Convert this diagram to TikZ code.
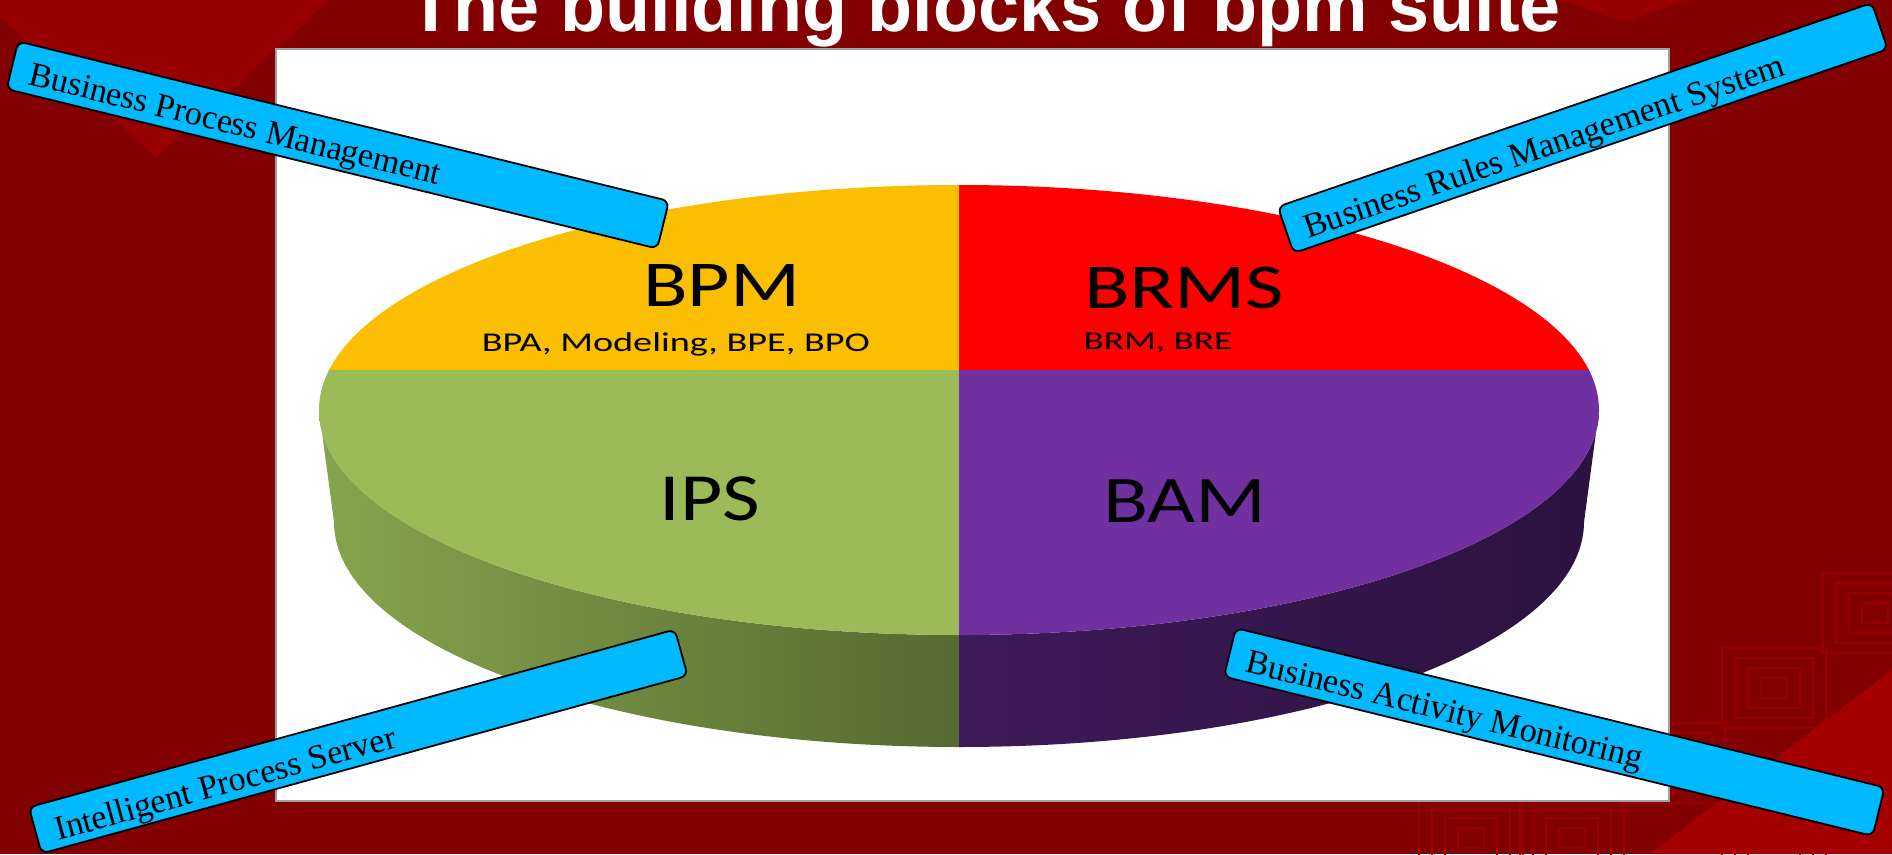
\documentclass[tikz,border=0pt]{standalone}
\usepackage{fontspec}
\usepackage{graphicx}
\newfontfamily\titlefont{Liberation Sans}
\newfontfamily\piefont{Carlito}
\newfontfamily\boxfont{Liberation Serif}
\definecolor{bgdark}{HTML}{830000}
\definecolor{bglight}{HTML}{980000}
\definecolor{bgbright}{HTML}{A40000}
\definecolor{patline}{HTML}{950000}
\definecolor{panelgray}{HTML}{A0A0A0}
\definecolor{pieyellow}{HTML}{FBBE00}
\definecolor{piered}{HTML}{FE0000}
\definecolor{piegreen}{HTML}{9BBB59}
\definecolor{piepurple}{HTML}{7030A0}
\definecolor{sidegreenL}{HTML}{86A44D}
\definecolor{sidegreenR}{HTML}{556A30}
\definecolor{sidepurpleL}{HTML}{3E1A58}
\definecolor{sidepurpleR}{HTML}{2B1240}
\definecolor{calloutblue}{HTML}{00B9FF}
\newcommand\fitlabel[3]{\resizebox{#1pt}{#2pt}{\smash{#3}\vphantom{B}}}
\begin{document}
\begin{tikzpicture}[x=1pt,y=1pt,
  callout/.style={rectangle, rounded corners=7pt, draw=black, line width=1.8pt,
    fill=calloutblue, inner sep=0pt},
  callouttext/.style={anchor=base west, inner sep=0pt,
    font=\boxfont\fontsize{34.3}{40}\selectfont},
  pielabel/.style={anchor=base west, inner sep=0pt, text=black,
    font=\piefont\fontsize{20}{24}\selectfont},
  sq/.style={draw=patline, line width=1.1pt}
]
\useasboundingbox (0,0) rectangle (1892,-854);
\clip (0,0) rectangle (1892,-854);
% background
\fill[bgdark] (0,0) rectangle (1892,-854);
\fill[bglight] (0,0) -- (330,0) -- (156,-157) -- (0,-17) -- cycle;
\fill[bglight] (1560,0) -- (1690,0) -- (1624,-22) -- cycle;
\foreach \cx/\cy in {1875/613, 1774/688, 1673/763, 1572/838, 1875/763, 1471/838, 1774/838}
  \foreach \n in {1,...,4}
    \draw[sq] ({\cx-13*\n},{-\cy+10*\n}) rectangle ({\cx+13*\n},{-\cy-10*\n});
\fill[bgbright] (1892,-670) -- (1892,-854) -- (1650,-854) -- cycle;
% title
\node[anchor=base west, inner sep=0pt, text=white,
  font=\titlefont\bfseries\fontsize{73.8}{80}\selectfont] (title) at (408.5,-31)
  {The building blocks of bpm suite};
% white panel
\node[draw=panelgray, line width=2pt, fill=white, minimum width=1393pt,
  minimum height=752pt, inner sep=0pt, anchor=north west] (panel) at (275,-48) {};
% pie side
\shade[left color=sidegreenL, right color=sidegreenR]
  (319,-410) -- (334,-522) arc[start angle=180, end angle=270, x radius=625, y radius=225]
  -- (959,-635) arc[start angle=270, end angle=180, x radius=640, y radius=225] -- cycle;
\shade[left color=sidepurpleL, right color=sidepurpleR]
  (959,-747) arc[start angle=270, end angle=360, x radius=625, y radius=225]
  -- (1599,-410) arc[start angle=0, end angle=-90, x radius=640, y radius=225] -- cycle;
% pie top face
\begin{scope}
  \clip (959,-410) ellipse [x radius=640, y radius=225];
  \fill[pieyellow] (300,-150) rectangle (959,-370);
  \fill[piered] (959,-150) rectangle (1620,-370);
  \fill[piegreen] (300,-370) rectangle (959,-660);
  \fill[piepurple] (959,-370) rectangle (1620,-660);
\end{scope}
% pie labels
\node[pielabel] (bpm) at (643,-306) {\fitlabel{157}{42}{BPM}};
\node[pielabel] (bpmsub) at (481.7,-351) {\fitlabel{388}{17.4}{BPA, Modeling, BPE, BPO}};
\node[pielabel] (brms) at (1084,-308.5) {\fitlabel{200}{41}{BRMS}};
\node[pielabel] (brmssub) at (1083.5,-349.5) {\fitlabel{148.5}{16.5}{BRM, BRE}};
\node[pielabel] (ips) at (659.5,-520) {\fitlabel{100.5}{43.3}{IPS}};
\node[pielabel] (bam) at (1103,-522.7) {\fitlabel{163}{42.7}{BAM}};
% callouts
\node[callout, rotate=-13.78, minimum width=670pt, minimum height=49pt] (cbpm) at (337.75,-145) {};
\node[callouttext, rotate=-13.78] (tbpm) at (27,-84) {Business Process Management};
\node[callout, rotate=18.94, minimum width=628pt, minimum height=49pt] (cbrms) at (1582.75,-128) {};
\node[callouttext, rotate=18.94] (tbrms) at (1308,-239) {Business Rules Management System};
\node[callout, rotate=15.38, minimum width=670pt, minimum height=48pt] (cips) at (358.25,-741.5) {};
\node[callouttext, rotate=15.38] (tips) at (58,-840.7) {Intelligent Process Server};
\node[callout, rotate=-13.8, minimum width=668pt, minimum height=50pt] (cbam) at (1554.25,-732) {};
\node[callouttext, rotate=-13.8] (tbam) at (1244,-671.7) {Business Activity Monitoring};
\end{tikzpicture}
\end{document}
